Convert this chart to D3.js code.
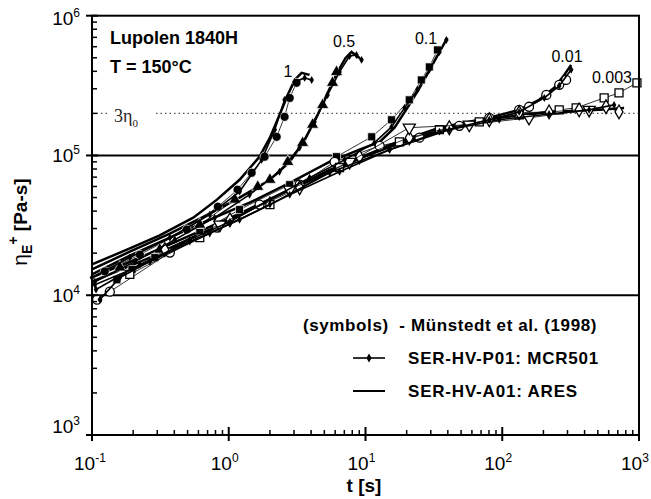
<!DOCTYPE html>
<html>
<head>
<meta charset="utf-8">
<script src="https://cdn.jsdelivr.net/npm/d3@7"></script>
<style>
  body { margin: 0; background: #fff; }
  svg { display: block; font-family: "Liberation Sans", Arial, sans-serif; }
</style>
</head>
<body>
<div id="chart"></div>
<script>
// elongational viscosity growth, Lupolen 1840H, T = 150 C
// rate 1 s^-1
const tAres1 = [0.1, 0.18, 0.31, 0.55, 0.82, 1.2, 1.68, 2.0, 2.35, 2.7, 3.03, 3.41, 3.9];
const etaAres1 = [1.66e4, 2.12e4, 2.67e4, 3.59e4, 4.83e4, 6.7e4, 9.8e4, 1.34e5, 1.95e5, 2.71e5, 3.47e5, 3.9e5, 3.77e5];
const tMcr1 = [0.1, 0.189, 0.371, 0.726, 1.2, 1.74, 2.17, 2.56, 3.03, 3.59, 4.04];
const etaMcr1 = [1.34e4, 1.86e4, 2.58e4, 3.77e4, 5.51e4, 9.3e4, 1.53e5, 2.5e5, 3.36e5, 3.59e5, 3.47e5];
const tSym1 = [0.124, 0.224, 0.493, 0.832, 1.16, 1.47, 1.83, 2.24, 2.56, 2.79, 3.13];
const etaSym1 = [1.48e4, 1.95e4, 2.95e4, 4.3e4, 5.69e4, 7.52e4, 9.8e4, 1.36e5, 1.89e5, 2.58e5, 3.31e5];

// rate 0.5
const tAres05 = [0.1, 0.189, 0.371, 0.726, 1.2, 2.0, 2.79, 3.59, 4.46, 5.28, 6.25, 7.15, 7.9, 9.03];
const etaAres05 = [1.53e4, 2.05e4, 2.76e4, 3.84e4, 4.99e4, 6.7e4, 9.0e4, 1.29e5, 1.95e5, 2.8e5, 3.96e5, 4.99e5, 5.5e5, 4.99e5];
const tMcr05 = [0.105, 0.206, 0.403, 0.79, 1.42, 2.35, 3.3, 4.24, 5.28, 6.46, 7.64, 8.59, 9.35];
const etaMcr05 = [1.25e4, 1.74e4, 2.5e4, 3.59e4, 5.24e4, 7.65e4, 1.14e5, 1.74e5, 2.71e5, 3.96e5, 5.15e5, 5.24e5, 4.83e5];
const tSym05 = [0.16, 0.313, 0.614, 1.11, 1.63, 2.0, 2.7, 3.47, 4.1, 4.86, 5.74, 6.14];
const etaSym05 = [1.58e4, 2.12e4, 3.2e4, 4.83e4, 5.97e4, 6.7e4, 9.0e4, 1.23e5, 1.66e5, 2.3e5, 3.31e5, 3.96e5];

// rate 0.1
const tAres01 = [0.1, 0.189, 0.371, 0.726, 1.42, 2.79, 5.46, 9.03, 12.7, 16.3, 20.9, 25.6, 30.3, 34.7, 39.7];
const etaAres01 = [1.41e4, 1.92e4, 2.58e4, 3.47e4, 4.59e4, 6.38e4, 9.0e4, 1.1e5, 1.25e5, 1.58e5, 2.3e5, 3.2e5, 4.3e5, 5.5e5, 6.93e5];
const tMcr01 = [0.114, 0.16, 0.265, 0.519, 1.02, 2.0, 3.9, 7.03, 11.6, 15.5, 19.3, 24.0, 29.3, 34.7, 39.0];
const etaMcr01 = [9.3e3, 1.34e4, 1.74e4, 2.5e4, 3.36e4, 4.83e4, 6.93e4, 9.3e4, 1.23e5, 1.6e5, 2.19e5, 2.95e5, 4.1e5, 5.5e5, 6.7e5];
const tSym01 = [0.152, 0.196, 0.288, 0.614, 1.2, 2.79, 6.14, 11.1, 15.5, 20.9, 25.6, 29.3, 33.6];
const etaSym01 = [1.29e4, 1.53e4, 1.86e4, 2.81e4, 4.1e4, 6.18e4, 9.8e4, 1.36e5, 1.8e5, 2.5e5, 3.47e5, 4.3e5, 5.69e5];

// rate 0.01
const tAres001 = [0.1, 0.224, 0.519, 1.2, 2.79, 6.46, 15.0, 34.7, 80.4, 133, 186, 240, 284, 319];
const etaAres001 = [1.34e4, 1.86e4, 2.67e4, 3.84e4, 5.69e4, 8.2e4, 1.19e5, 1.58e5, 1.86e5, 2.12e5, 2.5e5, 3.05e5, 3.77e5, 4.45e5];
const tMcr001 = [0.107, 0.224, 0.519, 1.2, 2.79, 6.46, 15.0, 34.7, 80.4, 133, 203, 261, 319];
const etaMcr001 = [1.1e4, 1.66e4, 2.42e4, 3.47e4, 5.24e4, 7.65e4, 1.1e5, 1.48e5, 1.8e5, 2.05e5, 2.58e5, 3.15e5, 4.1e5];
const tSym001 = [0.109, 0.135, 0.371, 0.82, 1.68, 3.3, 5.94, 12.7, 24.8, 48.5, 80.4, 133, 157, 210, 261, 293];
const etaSym001 = [9.3e3, 1.06e4, 2.02e4, 3.05e4, 4.45e4, 6.18e4, 9.0e4, 1.17e5, 1.34e5, 1.63e5, 1.86e5, 2.12e5, 2.23e5, 2.71e5, 3.2e5, 3.47e5];

// rate 0.003
const tAres0003 = [0.1, 0.265, 0.726, 2.0, 5.46, 15.0, 41, 95.1, 220, 511, 778];
const etaAres0003 = [1.25e4, 1.86e4, 2.95e4, 4.83e4, 7.9e4, 1.15e5, 1.58e5, 1.86e5, 2.05e5, 2.12e5, 2.19e5];
const tMcr0003 = [0.105, 0.265, 0.726, 2.0, 5.46, 15.0, 41, 95.1, 220, 432, 657];
const etaMcr0003 = [1.19e4, 1.74e4, 2.76e4, 4.45e4, 7.52e4, 1.1e5, 1.53e5, 1.8e5, 1.98e5, 2.12e5, 2.3e5];
const tSym0003 = [0.189, 0.614, 2.0, 6.46, 17.7, 34.7, 67.9, 133, 261, 347, 556, 714, 966];
const etaSym0003 = [1.41e4, 2.58e4, 4.45e4, 8.2e4, 1.25e5, 1.53e5, 1.74e5, 1.95e5, 2.12e5, 2.19e5, 2.58e5, 2.8e5, 3.31e5];

// extra literature symbols near the linear envelope
const tDiam = [0.341, 1.02, 3.3, 9.03, 20.9, 41, 80.4, 133, 220, 365, 574, 714];
const etaDiam = [2.12e4, 3.47e4, 5.88e4, 9.8e4, 1.34e5, 1.58e5, 1.8e5, 2.02e5, 2.05e5, 2.12e5, 2.23e5, 2.05e5];
const tTri = [0.86, 2.79, 7.64, 20.9, 57.4, 157, 432];
const etaTri = [3.2e4, 5.69e4, 9.0e4, 1.58e5, 1.66e5, 1.86e5, 2.12e5];

const eta3 = 2e5; // 3 eta0 level
const xTicks = [0.1, 1, 10, 100, 1000];
const xExp = ["-1", "0", "1", "2", "3"];
const yTicks = [1e3, 1e4, 1e5, 1e6];
const yExp = ["3", "4", "5", "6"];
const rateLabels = ["1", "0.5", "0.1", "0.01", "0.003"];

// ---- setup ----
const W = 651, H = 499;
const pLeft = 92, pRight = 639, pTop = 15.7, pBottom = 435;

const svg = d3.select("#chart").append("svg").attr("width", W).attr("height", H);

const x = d3.scaleLog().domain([0.1, 1000]).range([pLeft, pRight]);
const y = d3.scaleLog().domain([1e3, 1e6]).range([pBottom, pTop]);

const zip = (ts, es) => ts.map((t, i) => [t, es[i]]);
const line = d3.line().x(d => x(d[0])).y(d => y(d[1]));

// reference lines
svg.selectAll(".hline").data([1e4, 1e5]).enter().append("line")
  .attr("x1", pLeft).attr("x2", pRight)
  .attr("y1", d => y(d)).attr("y2", d => y(d))
  .attr("stroke", "#000").attr("stroke-width", 2);

svg.append("line").attr("x1", pLeft).attr("x2", 110).attr("y1", y(eta3)).attr("y2", y(eta3))
  .attr("stroke", "#555").attr("stroke-width", 1.3).attr("stroke-dasharray", "1.5,3");
svg.append("line").attr("x1", 156).attr("x2", pRight).attr("y1", y(eta3)).attr("y2", y(eta3))
  .attr("stroke", "#555").attr("stroke-width", 1.3).attr("stroke-dasharray", "1.5,3");

const t3 = svg.append("text").attr("x", 114).attr("y", y(eta3) + 9)
  .attr("font-family", "'Liberation Serif', 'Times New Roman', serif").attr("font-size", 18).attr("fill", "#222");
t3.append("tspan").text("3η");
t3.append("tspan").attr("dy", 5).attr("font-size", 11).text("0");

// ---- curves ----
const aresSets = [zip(tAres1, etaAres1), zip(tAres05, etaAres05), zip(tAres01, etaAres01), zip(tAres001, etaAres001), zip(tAres0003, etaAres0003)];
const mcrSets = [zip(tMcr1, etaMcr1), zip(tMcr05, etaMcr05), zip(tMcr01, etaMcr01), zip(tMcr001, etaMcr001), zip(tMcr0003, etaMcr0003)];
const symSets = [
  { d: zip(tSym1, etaSym1), type: d3.symbolCircle, fill: "#000", rot: 0 },
  { d: zip(tSym05, etaSym05), type: d3.symbolTriangle, fill: "#000", rot: 0 },
  { d: zip(tSym01, etaSym01), type: d3.symbolSquare, fill: "#000", rot: 0 },
  { d: zip(tSym001, etaSym001), type: d3.symbolCircle, fill: "#fff", rot: 0 },
  { d: zip(tSym0003, etaSym0003), type: d3.symbolSquare, fill: "#fff", rot: 0 },
  { d: zip(tDiam, etaDiam), type: d3.symbolDiamond, fill: "#fff", rot: 0 },
  { d: zip(tTri, etaTri), type: d3.symbolTriangle, fill: "#fff", rot: 180 }
];

// ARES: solid thick lines
svg.selectAll(".ares").data(aresSets).enter().append("path")
  .attr("class", "ares").attr("d", line)
  .attr("fill", "none").attr("stroke", "#000").attr("stroke-width", 2.5);

// literature: thin connecting lines + symbols
symSets.forEach(s => {
  svg.append("path").attr("d", line(s.d)).attr("fill", "none")
    .attr("stroke", "#000").attr("stroke-width", 0.8);
  svg.append("g").selectAll("path").data(s.d).enter().append("path")
    .attr("d", d3.symbol().type(s.type).size(s.type === d3.symbolDiamond ? 55 : 64))
    .attr("transform", d => "translate(" + x(d[0]) + "," + y(d[1]) + ") rotate(" + s.rot + ")")
    .attr("fill", s.fill)
    .attr("stroke", s.fill === "#000" ? "#fff" : "#000")
    .attr("stroke-width", s.fill === "#000" ? 0.7 : 1.3);
});

// MCR501: line with small diamonds
mcrSets.forEach(m => {
  svg.append("path").attr("d", line(m)).attr("fill", "none")
    .attr("stroke", "#000").attr("stroke-width", 1.6);
  svg.append("g").selectAll("path").data(m).enter().append("path")
    .attr("d", d3.symbol().type(d3.symbolDiamond).size(18))
    .attr("transform", d => "translate(" + x(d[0]) + "," + y(d[1]) + ")")
    .attr("fill", "#000");
});

// rate labels
const rateX = [288, 344, 426, 567, 612];
const rateY = [77, 47, 44, 62, 83];
svg.selectAll(".rl").data(rateLabels).enter().append("text")
  .attr("x", (d, i) => rateX[i]).attr("y", (d, i) => rateY[i])
  .attr("text-anchor", "middle").attr("font-size", 16).text(d => d);

// ---- axes frame ----
svg.append("rect").attr("x", pLeft).attr("y", pTop).attr("width", pRight - pLeft).attr("height", pBottom - pTop)
  .attr("fill", "none").attr("stroke", "#000").attr("stroke-width", 2);

// y ticks
const yMinor = y.ticks().filter(v => !yTicks.includes(v));
svg.selectAll(".ymin").data(yMinor).enter().append("line")
  .attr("x1", pLeft).attr("x2", pLeft + 5).attr("y1", d => y(d)).attr("y2", d => y(d))
  .attr("stroke", "#000").attr("stroke-width", 1.5);
svg.selectAll(".ymaj").data(yTicks).enter().append("line")
  .attr("x1", pLeft - 6).attr("x2", pLeft + 6).attr("y1", d => y(d)).attr("y2", d => y(d))
  .attr("stroke", "#000").attr("stroke-width", 2);

// x ticks
const xMinor = x.ticks().filter(v => !xTicks.some(t => Math.abs(t - v) / t < 1e-6));
svg.selectAll(".xmin").data(xMinor).enter().append("line")
  .attr("x1", d => x(d)).attr("x2", d => x(d)).attr("y1", pBottom).attr("y2", pBottom - 5)
  .attr("stroke", "#000").attr("stroke-width", 1.5);
svg.selectAll(".xmaj").data(xTicks).enter().append("line")
  .attr("x1", d => x(d)).attr("x2", d => x(d)).attr("y1", pBottom + 6).attr("y2", pBottom - 8)
  .attr("stroke", "#000").attr("stroke-width", 2);

// tick labels
svg.selectAll(".yl").data(yTicks).enter().append("text")
  .attr("x", 80).attr("y", d => Math.min(Math.max(y(d) + 7, 25), 433))
  .attr("text-anchor", "end").attr("font-size", 19)
  .each(function (d, i) {
    const t = d3.select(this);
    t.append("tspan").text("10");
    t.append("tspan").attr("dy", -8).attr("font-size", 12).text(yExp[i]);
  });

svg.selectAll(".xl").data(xTicks).enter().append("text")
  .attr("x", d => x(d) - 18).attr("y", 470)
  .attr("font-size", 19)
  .each(function (d, i) {
    const t = d3.select(this);
    t.append("tspan").text("10");
    t.append("tspan").attr("dy", -8).attr("font-size", 12).text(xExp[i]);
  });

// axis titles
svg.append("text").attr("x", 364).attr("y", 492).attr("text-anchor", "middle")
  .attr("font-size", 19).attr("font-weight", "bold").text("t [s]");

const yt = svg.append("text").attr("transform", "translate(27,222) rotate(-90)")
  .attr("text-anchor", "middle").attr("font-size", 19).attr("font-weight", "bold");
yt.append("tspan").attr("font-weight", "normal").attr("font-size", 21).text("η");
yt.append("tspan").attr("dy", 5).attr("font-size", 14).text("E");
yt.append("tspan").attr("dy", -14).attr("font-size", 14).text("+");
yt.append("tspan").attr("dy", 9).text(" [Pa-s]");

// annotations
svg.append("text").attr("x", 110).attr("y", 44).attr("font-size", 18).attr("font-weight", "bold").text("Lupolen 1840H");
svg.append("text").attr("x", 110).attr("y", 73).attr("font-size", 18).attr("font-weight", "bold").text("T = 150°C");

// legend
svg.append("text").attr("x", 303).attr("y", 331).attr("font-size", 17).attr("font-weight", "bold")
  .attr("letter-spacing", 0.6).attr("xml:space", "preserve").text("(symbols)  - Münstedt et al. (1998)");

svg.append("line").attr("x1", 353).attr("x2", 385).attr("y1", 358).attr("y2", 358)
  .attr("stroke", "#000").attr("stroke-width", 1.6);
svg.append("path").attr("d", d3.symbol().type(d3.symbolDiamond).size(24))
  .attr("transform", "translate(369,358)").attr("fill", "#000");
svg.append("text").attr("x", 408).attr("y", 364).attr("font-size", 17).attr("font-weight", "bold")
  .attr("letter-spacing", 0.8).text("SER-HV-P01: MCR501");

svg.append("line").attr("x1", 353).attr("x2", 385).attr("y1", 391).attr("y2", 391)
  .attr("stroke", "#000").attr("stroke-width", 2);
svg.append("text").attr("x", 408).attr("y", 397).attr("font-size", 17).attr("font-weight", "bold")
  .attr("letter-spacing", 0.8).text("SER-HV-A01: ARES");
</script>
</body>
</html>
